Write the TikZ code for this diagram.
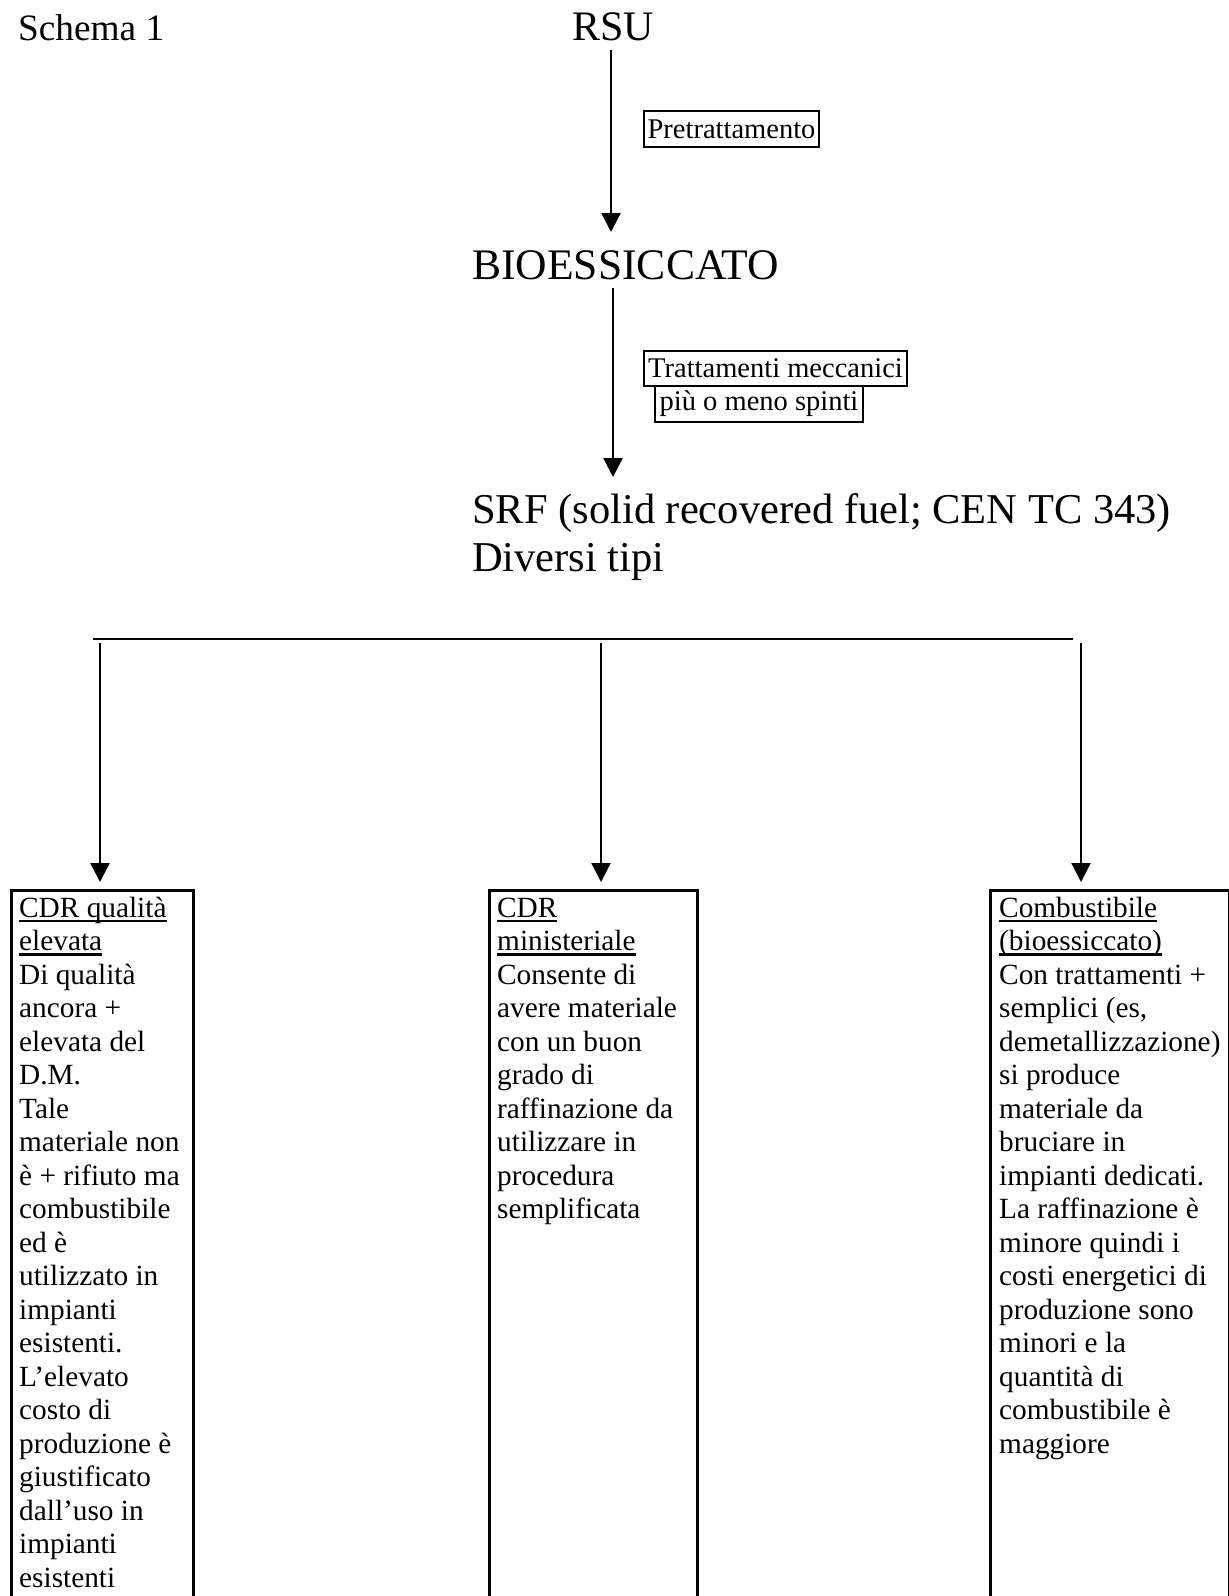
\documentclass[tikz,border=0pt]{standalone}
\usepackage{fontspec}
\setmainfont{Liberation Serif}
\usetikzlibrary{arrows.meta}
\newcommand\mylines[1]{\begin{tabular}[t]{@{}l@{}}#1\end{tabular}}
\newcommand\myul[1]{\setbox0=\hbox{#1}\rlap{\rule[-5pt]{\wd0}{2.2pt}}\box0}
\tikzset{
  arr/.style={line width=2.3pt, -{Triangle[width=19pt,length=19pt]}},
  labelbox/.style={draw, line width=2pt, inner sep=0pt, anchor=north west, font=\fontsize{28.5}{33}\selectfont},
  branchbox/.style={draw, line width=2.5pt, anchor=north west, inner sep=0pt},
  bigtext/.style={anchor=base west, inner sep=0pt, font=\fontsize{42.5}{48}\selectfont},
  bodytext/.style={anchor=base west, inner sep=0pt, font=\fontsize{29.3}{33.5}\selectfont},
}
\begin{document}
\begin{tikzpicture}[x=1pt,y=-1pt]
\useasboundingbox (0,0) rectangle (1229,1596);
\fill[white] (0,0) rectangle (1229,1596);
% titles
\node[anchor=base west, inner sep=0pt, font=\fontsize{37.3}{42}\selectfont] (schema) at (18,40) {Schema 1};
\node[anchor=base west, inner sep=0pt, font=\fontsize{42}{47}\selectfont] (rsu) at (572,40) {RSU};
\node[anchor=base west, inner sep=0pt, font=\fontsize{43.6}{48}\selectfont] (bio) at (472,279) {BIOESSICCATO};
\node[bigtext] (srf) at (472,523) {\mylines{SRF (solid recovered fuel; CEN TC 343)\\Diversi tipi}};
% label boxes
\node[labelbox, minimum width=175, minimum height=36] (pre) at (643,110) {Pretrattamento};
\node[labelbox, minimum width=263, minimum height=35] (tm1) at (643,350) {Trattamenti meccanici};
\node[labelbox, minimum width=208, minimum height=36] (tm2) at (654,385) {più o meno spinti};
% main arrows
\coordinate (a1s) at (611,50);
\coordinate (a1e) at (611,232);
\draw[arr] (a1s) -- (a1e);
\coordinate (a2s) at (613,288);
\coordinate (a2e) at (613,477);
\draw[arr] (a2s) -- (a2e);
% horizontal line
\coordinate (hl) at (93,639);
\coordinate (hr) at (1073,639);
\draw[line width=1.5pt] (hl) -- (hr);
% branch boxes
\node[branchbox, minimum width=182, minimum height=740] (b1) at (10,889) {};
\node[branchbox, minimum width=208, minimum height=740] (b2) at (488,889) {};
\node[branchbox, minimum width=239, minimum height=740] (b3) at (989,889) {};
% branch arrows
\coordinate (c1) at (100,643);
\coordinate (c2) at (601,643);
\coordinate (c3) at (1081,643);
\draw[arr, shorten >=7pt] (c1) -- (c1 |- b1.north);
\draw[arr, shorten >=7pt] (c2) -- (c2 |- b2.north);
\draw[arr, shorten >=7pt] (c3) -- (c3 |- b3.north);
% box texts
\node[bodytext] (t1) at (19,917) {\mylines{\myul{CDR qualità}\\ \myul{elevata}\\ Di qualità\\ ancora +\\ elevata del\\ D.M.\\ Tale\\ materiale non\\ è + rifiuto ma\\ combustibile\\ ed è\\ utilizzato in\\ impianti\\ esistenti.\\ L’elevato\\ costo di\\ produzione è\\ giustificato\\ dall’uso in\\ impianti\\ esistenti}};
\node[bodytext] (t2) at (497,917) {\mylines{\myul{CDR}\\ \myul{ministeriale}\\ Consente di\\ avere materiale\\ con un buon\\ grado di\\ raffinazione da\\ utilizzare in\\ procedura\\ semplificata}};
\node[bodytext] (t3) at (999,917) {\mylines{\myul{Combustibile}\\ \myul{(bioessiccato)}\\ Con trattamenti +\\ semplici (es,\\ demetallizzazione)\\ si produce\\ materiale da\\ bruciare in\\ impianti dedicati.\\ La raffinazione è\\ minore quindi i\\ costi energetici di\\ produzione sono\\ minori e la\\ quantità di\\ combustibile è\\ maggiore}};
\end{tikzpicture}
\end{document}
